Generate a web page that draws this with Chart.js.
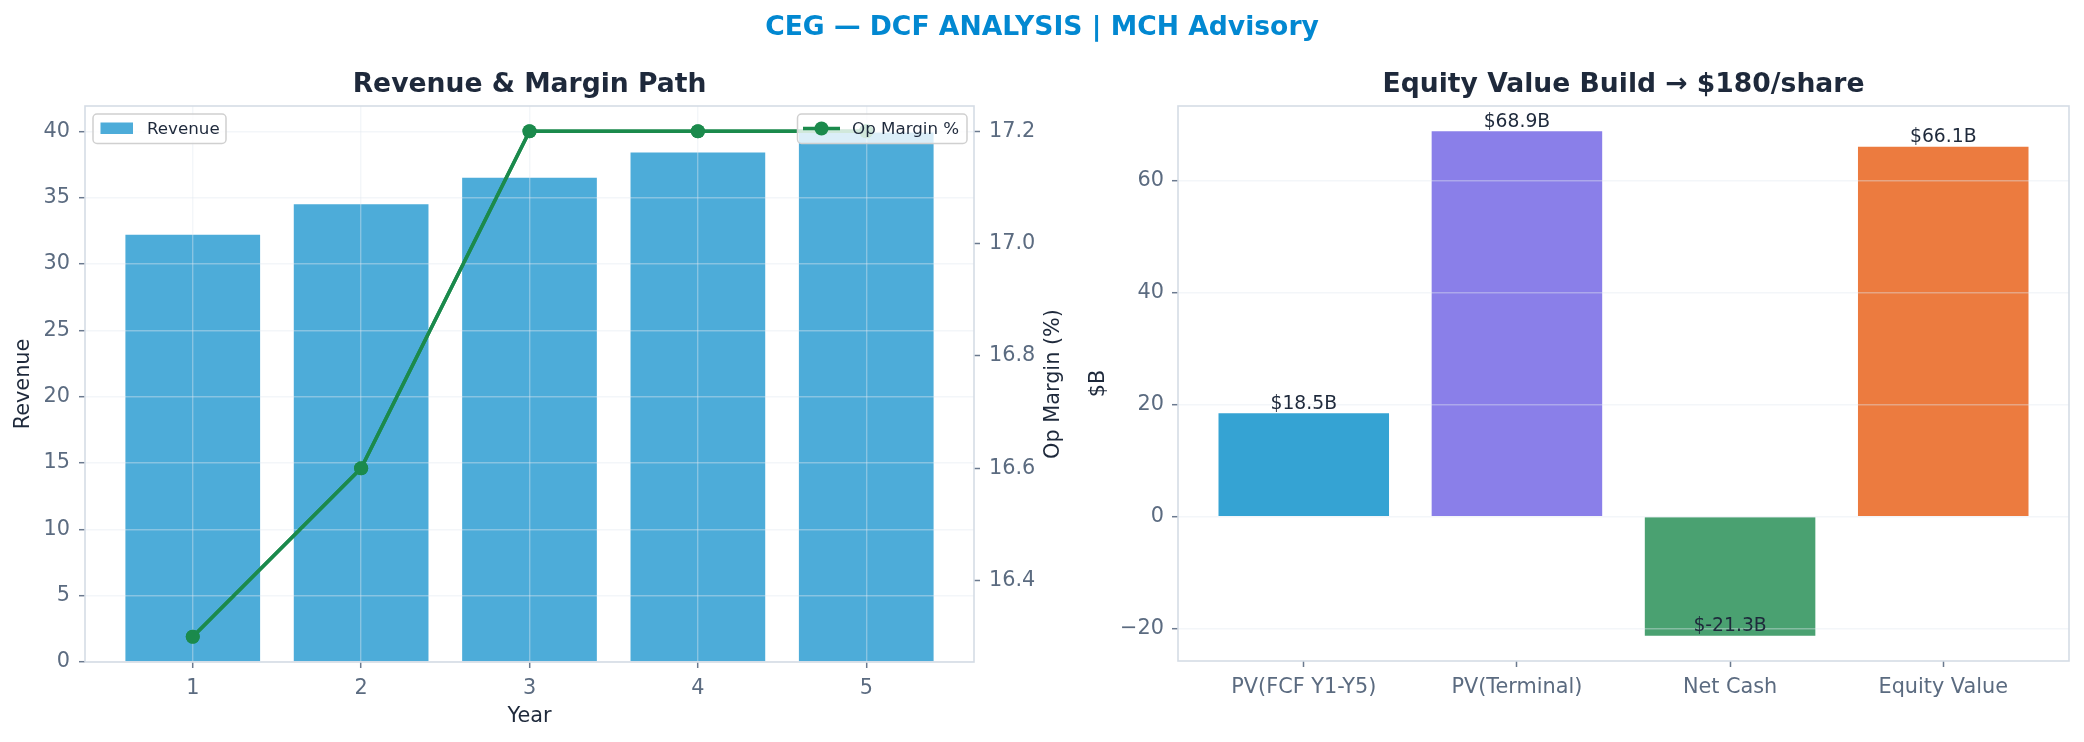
<!DOCTYPE html>
<html lang="en">
<head>
<meta charset="UTF-8">
<title>CEG DCF Analysis</title>
<script src="https://cdn.jsdelivr.net/npm/chart.js@4"></script>
<style>
  html, body { margin: 0; padding: 0; background: #fff; overflow: hidden; }
  #wrap { position: relative; width: 2084px; height: 742px; }
  canvas { position: absolute; left: 0; top: 0; }
</style>
</head>
<body>
<div id="wrap">
  <canvas id="revChart" width="2084" height="742"></canvas>
  <canvas id="eqChart" width="2084" height="742"></canvas>
</div>
<script>
// data
const years = [1, 2, 3, 4, 5];
const revenue = [32.2, 34.5, 36.5, 38.4, 39.9];
const opMargin = [16.3, 16.6, 17.2, 17.2, 17.2];
const revTickVals = [0, 5, 10, 15, 20, 25, 30, 35, 40];
const marginTickVals = [16.4, 16.6, 16.8, 17.0, 17.2];
const revRange = [0, 41.9];
const marginRange = [16.255, 17.245];
const yearRange = [0.36, 5.64];

const bridgeLabels = ['PV(FCF Y1-Y5)', 'PV(Terminal)', 'Net Cash', 'Equity Value'];
const bridgeValues = [18.5, 68.9, -21.3, 66.1];
const bridgeTickVals = [-20, 0, 20, 40, 60];
const bridgeRange = [-25.8, 73.4];
const bridgeXRange = [-0.59, 3.59];
const bridgeColors = ['#35a3d3', '#8a7fe9', '#4aa171', '#ec7b3f'];

const FONT = "'DejaVu Sans', sans-serif";
const DARK = '#1e293b';
const TICK = '#5b6b80';
const SPINE = '#d5dce5';
const GRID = 'rgba(226,232,240,0.4)';
const BAR_BLUE = '#4dacd9';
const LINE_GREEN = '#1b8a4c';

Chart.defaults.font.family = FONT;
Chart.defaults.animation = false;

function txt(ctx, s, x, y, size, color, opts) {
  opts = opts || {};
  ctx.save();
  ctx.font = (opts.bold ? 'bold ' : '') + size + 'px ' + FONT;
  ctx.fillStyle = color;
  ctx.textAlign = opts.align || 'center';
  ctx.textBaseline = opts.baseline || 'alphabetic';
  ctx.translate(x, y);
  if (opts.rot) ctx.rotate(opts.rot);
  ctx.fillText(s, 0, 0);
  ctx.restore();
}

function frame(ctx, a) {
  ctx.save();
  ctx.strokeStyle = SPINE;
  ctx.lineWidth = 1.6;
  ctx.strokeRect(a.left, a.top, a.right - a.left, a.bottom - a.top);
  ctx.restore();
}

function legendBox(ctx, x, y, w, h) {
  ctx.save();
  ctx.beginPath();
  ctx.roundRect(x, y, w, h, 4);
  ctx.fillStyle = 'rgba(255,255,255,0.8)';
  ctx.fill();
  ctx.strokeStyle = '#d0d0d0';
  ctx.lineWidth = 1.5;
  ctx.stroke();
  ctx.restore();
}

const fixedTicks = vals => s => { s.ticks = vals.map(v => ({ value: v })); };
const tickFont = { family: FONT, size: 20.8 };
const tickGrid = { tickLength: 6, tickColor: '#6b7a8f', tickWidth: 1.5 };
// grid lines sit on top of the bars, as in the reference
const overGrid = Object.assign({ z: 1, color: GRID, lineWidth: 1.4 }, tickGrid);

// ---------- left: revenue & margin ----------
const revDecor = {
  id: 'revDecor',
  afterDraw(chart) {
    const ctx = chart.ctx, a = chart.chartArea;
    const midY = (a.top + a.bottom) / 2;
    frame(ctx, a);
    // margin line goes above the grid (grid is above the bars)
    chart.getDatasetMeta(0).controller.draw();

    txt(ctx, 'CEG \u2014 DCF ANALYSIS | MCH Advisory', 1042, 35, 26.6, '#0288d1', { bold: true });
    txt(ctx, 'Revenue & Margin Path', (a.left + a.right) / 2, 92, 26.6, DARK, { bold: true });
    txt(ctx, 'Year', (a.left + a.right) / 2, 722, 20.8, DARK);
    txt(ctx, 'Revenue', 24, midY, 20.8, DARK, { rot: -Math.PI / 2, baseline: 'middle' });
    txt(ctx, 'Op Margin (%)', a.right + 80, midY, 20.8, DARK, { rot: -Math.PI / 2, baseline: 'middle' });

    // legend: Revenue (upper left)
    const lx = a.left + 8, ly = a.top + 8;
    legendBox(ctx, lx, ly, 133, 29.5);
    ctx.fillStyle = BAR_BLUE;
    ctx.fillRect(lx + 7.5, ly + 8.5, 32.5, 11.5);
    txt(ctx, 'Revenue', lx + 54, ly + 20, 16.7, DARK, { align: 'left' });

    // legend: Op Margin % (upper right)
    const rw = 169.5, rx = a.right - 7 - rw;
    legendBox(ctx, rx, ly, rw, 29.5);
    const cy = ly + 14.5;
    ctx.save();
    ctx.strokeStyle = LINE_GREEN;
    ctx.lineWidth = 3.5;
    ctx.beginPath();
    ctx.moveTo(rx + 5.5, cy);
    ctx.lineTo(rx + 42.5, cy);
    ctx.stroke();
    ctx.fillStyle = LINE_GREEN;
    ctx.beginPath();
    ctx.arc(rx + 24, cy, 7, 0, Math.PI * 2);
    ctx.fill();
    ctx.restore();
    txt(ctx, 'Op Margin %', rx + 54.5, ly + 20, 16.7, DARK, { align: 'left' });
  }
};

new Chart(document.getElementById('revChart'), {
  type: 'bar',
  data: {
    datasets: [
      {
        type: 'line',
        label: 'Op Margin %',
        data: opMargin.map((v, i) => ({ x: years[i], y: v })),
        yAxisID: 'y1',
        borderColor: LINE_GREEN,
        backgroundColor: LINE_GREEN,
        borderWidth: 3.5,
        pointRadius: 7,
        pointBorderWidth: 0,
        tension: 0,
        clip: false,
        order: 0
      },
      {
        label: 'Revenue',
        data: revenue.map((v, i) => ({ x: years[i], y: v })),
        yAxisID: 'y',
        backgroundColor: BAR_BLUE,
        barPercentage: 0.8,
        categoryPercentage: 1,
        order: 1
      }
    ]
  },
  options: {
    responsive: false,
    devicePixelRatio: 1,
    layout: { padding: { left: 0, top: 106, right: 1042, bottom: 0 } },
    plugins: { legend: { display: false }, tooltip: { enabled: false } },
    scales: {
      x: {
        type: 'linear', bounds: 'data', offset: false,
        min: yearRange[0], max: yearRange[1],
        grid: Object.assign({ offset: false }, overGrid),
        border: { display: false },
        ticks: { font: tickFont, color: TICK, padding: 8 },
        afterBuildTicks: fixedTicks(years),
        afterFit(s) { s.height = 80; }
      },
      y: {
        position: 'left', bounds: 'data',
        min: revRange[0], max: revRange[1],
        grid: overGrid,
        border: { display: false },
        ticks: { font: tickFont, color: TICK, padding: 9 },
        afterBuildTicks: fixedTicks(revTickVals),
        afterFit(s) { s.width = 85; }
      },
      y1: {
        position: 'right', bounds: 'data',
        min: marginRange[0], max: marginRange[1],
        grid: Object.assign({ drawOnChartArea: false }, tickGrid),
        border: { display: false },
        ticks: { font: tickFont, color: TICK, padding: 9, callback: v => v.toFixed(1) },
        afterBuildTicks: fixedTicks(marginTickVals),
        afterFit(s) { s.width = 68; }
      }
    }
  },
  plugins: [revDecor]
});

// ---------- right: equity bridge ----------
const eqDecor = {
  id: 'eqDecor',
  afterDraw(chart) {
    const ctx = chart.ctx, a = chart.chartArea;
    frame(ctx, a);
    txt(ctx, 'Equity Value Build \u2192 $180/share', (a.left + a.right) / 2, 92, 26.6, DARK, { bold: true });
    txt(ctx, '$B', 1099, (a.top + a.bottom) / 2, 20.8, DARK, { rot: -Math.PI / 2, baseline: 'middle' });
    // value labels at the bar ends
    const meta = chart.getDatasetMeta(0);
    meta.data.forEach((bar, i) => {
      const v = bridgeValues[i];
      txt(ctx, '$' + v.toFixed(1) + 'B', bar.x, bar.y - 4.5, 18.75, DARK);
    });
  }
};

new Chart(document.getElementById('eqChart'), {
  type: 'bar',
  data: {
    datasets: [{
      label: '$B',
      data: bridgeValues.map((v, i) => ({ x: i, y: v })),
      backgroundColor: bridgeColors,
      barPercentage: 0.8,
      categoryPercentage: 1
    }]
  },
  options: {
    responsive: false,
    devicePixelRatio: 1,
    layout: { padding: { left: 1042, top: 106, right: 15, bottom: 0 } },
    plugins: { legend: { display: false }, tooltip: { enabled: false } },
    scales: {
      x: {
        type: 'linear', bounds: 'data', offset: false,
        min: bridgeXRange[0], max: bridgeXRange[1],
        grid: Object.assign({ offset: false, drawOnChartArea: false }, tickGrid),
        border: { display: false },
        ticks: { font: tickFont, color: TICK, padding: 8, callback: v => bridgeLabels[Math.round(v)] },
        afterBuildTicks: fixedTicks(bridgeLabels.map((_, i) => i)),
        afterFit(s) { s.height = 81; }
      },
      y: {
        bounds: 'data',
        min: bridgeRange[0], max: bridgeRange[1],
        grid: overGrid,
        border: { display: false },
        ticks: { font: tickFont, color: TICK, padding: 8,
          callback: v => (v < 0 ? '\u2212' + Math.abs(v) : String(v)) },
        afterBuildTicks: fixedTicks(bridgeTickVals),
        afterFit(s) { s.width = 136; }
      }
    }
  },
  plugins: [eqDecor]
});
</script>
</body>
</html>
